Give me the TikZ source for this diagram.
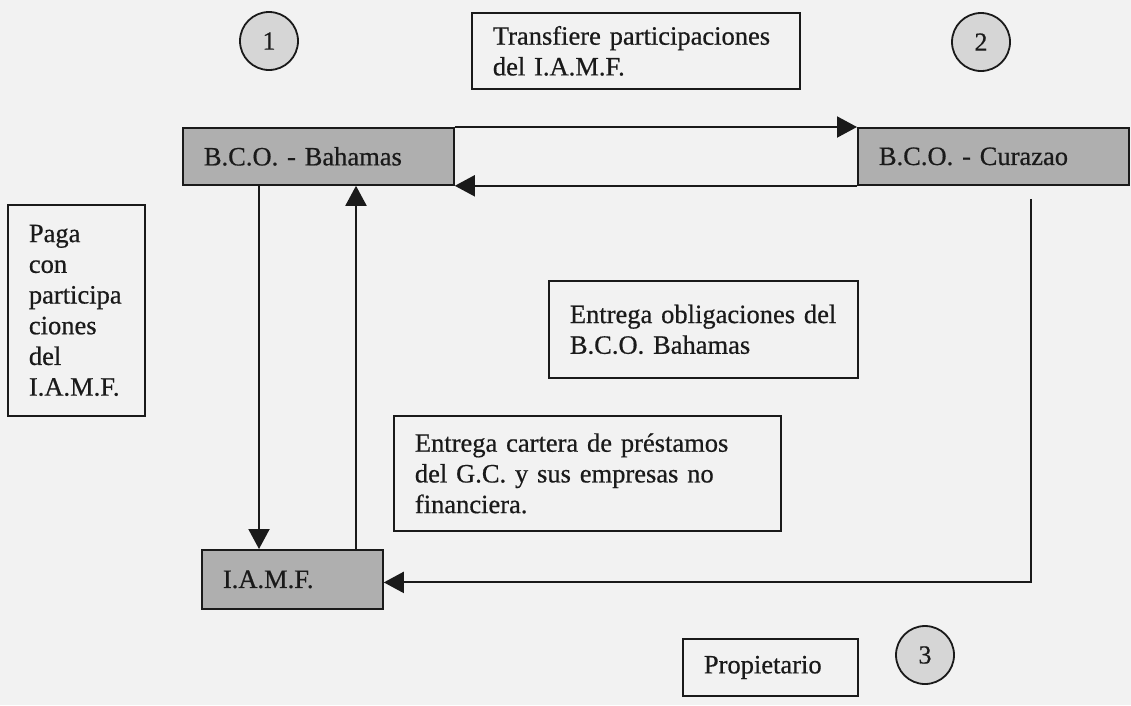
\documentclass[tikz,border=0pt]{standalone}
\usepackage{fontspec}
\setmainfont{Liberation Serif}[FakeBold=0.6]
\newfontfamily\heavyserif{Liberation Serif}[FakeBold=0.6]
\usetikzlibrary{arrows.meta}
\definecolor{bg}{HTML}{F2F2F2}
\definecolor{boxgray}{HTML}{AFAFAF}
\definecolor{circgray}{HTML}{D6D6D6}
\definecolor{ink}{HTML}{1A1A1A}
\begin{document}
\begin{tikzpicture}[x=1pt,y=-1pt,
  every node/.style={text=ink},
  box/.style={draw=ink, line width=1.8pt, rectangle, anchor=north west,
    inner xsep=21pt, inner ysep=0pt, align=left,
    font=\heavyserif\fontsize{26.5}{30.7}\selectfont},
  gbox/.style={box, fill=boxgray},
  num/.style={circle, draw=ink, line width=1.8pt, fill=circgray,
    minimum size=58pt, inner sep=0pt, font=\heavyserif\fontsize{26}{30}\selectfont},
  arr/.style={draw=ink, line width=2pt, -{Triangle[length=20pt,width=21pt]}}
]
\useasboundingbox (0,0) rectangle (1131,705);
\fill[bg] (0,0) rectangle (1131,705);

% numbered circles
\node[num] (n1) at (269,41) {1};
\node[num] (n2) at (981,42) {2};
\node[num] (n3) at (925,655) {3};

% boxes
\node[box, minimum width=328pt, minimum height=76pt, text width=286pt] (trans) at (471,12)
  {Transfiere participaciones\\del I.A.M.F.};
\node[gbox, minimum width=271pt, minimum height=57pt, text width=229pt] (bah) at (182,127)
  {B.C.O. - Bahamas};
\node[gbox, minimum width=271pt, minimum height=57pt, text width=229pt] (cur) at (857,127)
  {B.C.O. - Curazao};
\node[box, minimum width=137pt, minimum height=211pt, text width=95pt] (paga) at (7,204)
  {Paga\\con\\participa\\ciones\\del\\I.A.M.F.};
\node[box, minimum width=309pt, minimum height=97pt, text width=267pt] (oblig) at (548,280)
  {Entrega obligaciones del\\B.C.O. Bahamas};
\node[box, minimum width=387pt, minimum height=115pt, text width=345pt] (cart) at (393,415)
  {Entrega cartera de préstamos\\del G.C. y sus empresas no\\financiera.};
\node[gbox, minimum width=181pt, minimum height=59pt, text width=139pt] (iamf) at (201,549)
  {I.A.M.F.};
\node[box, minimum width=175pt, minimum height=57pt, text width=133pt] (prop) at (682,638)
  {Propietario};

% connectors
\draw[arr] (bah.north east) -- (cur.north west);
\draw[arr] (cur.south west) -- (bah.south east);

\coordinate (dn) at ([xshift=77pt]bah.south west);
\coordinate (up) at ([xshift=174pt]bah.south west);
\draw[arr] (dn) -- (dn |- iamf.north);
\draw[arr] (up |- iamf.north) -- (up);

\coordinate (cs) at ([xshift=174pt,yshift=-13pt]cur.south west);
\coordinate (ie) at ([yshift=-3pt]iamf.east);
\draw[arr] (cs) |- (ie);
\end{tikzpicture}
\end{document}
